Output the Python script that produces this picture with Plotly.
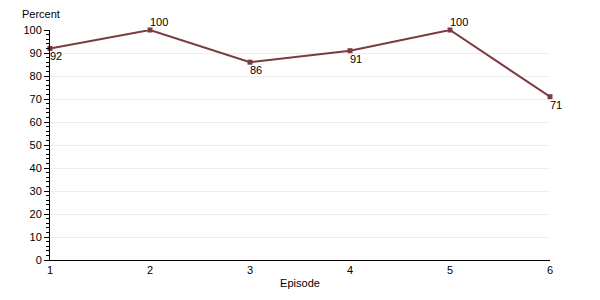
import plotly.graph_objects as go

episodes = [1, 2, 3, 4, 5, 6]
percent = [92, 100, 86, 91, 100, 71]
label_above = [False, True, False, False, True, False]
y_ticks = list(range(0, 101, 10))

color = "#7b3b40"
font = dict(family="Liberation Sans, Arial, sans-serif", size=11, color="#000000")

fig = go.Figure()
fig.add_trace(go.Scatter(
    x=episodes, y=percent, mode="lines+markers",
    line=dict(color=color, width=2),
    marker=dict(symbol="square", size=5, color=color),
    cliponaxis=False, showlegend=False,
))
annotations = [dict(text="Percent", xref="paper", yref="paper", x=-0.06, y=1.0,
                    xanchor="left", yanchor="bottom", yshift=8, showarrow=False, font=font)]
for xv, yv, above in zip(episodes, percent, label_above):
    annotations.append(dict(
        x=xv, y=yv, text=str(yv), showarrow=False, font=font,
        xanchor="left", yanchor="bottom" if above else "top",
        xshift=-2, yshift=0 if above else 0,
    ))
fig.update_layout(
    template="none",
    width=600, height=300,
    margin=dict(l=50, r=50, t=30, b=40),
    paper_bgcolor="white", plot_bgcolor="white",
    font=font,
    xaxis=dict(range=[1, 6], tickvals=episodes, showgrid=False, zeroline=False,
               showline=True, linecolor="#000", linewidth=1, ticks="",
               tickfont=font,
               title=dict(text="Episode", font=font, standoff=4)),
    yaxis=dict(range=[0, 100], tickvals=y_ticks, showgrid=True, gridcolor="#eeeeee",
               gridwidth=1, zeroline=False, showline=True, linecolor="#000", linewidth=1,
               ticks="outside", ticklen=5, tickcolor="#000", tickfont=font,
               minor=dict(dtick=2, ticks="outside", ticklen=3, tickcolor="#000", showgrid=False)),
    annotations=annotations,
)
fig.write_html("out.html")
